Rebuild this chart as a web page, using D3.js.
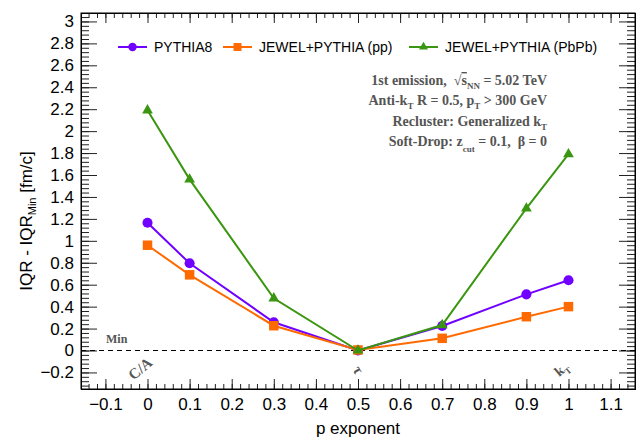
<!DOCTYPE html>
<html>
<head>
<meta charset="utf-8">
<script src="https://cdn.jsdelivr.net/npm/d3@7"></script>
<style>
  body { margin: 0; background: #fff; }
  svg { display: block; }
  text { font-family: "Liberation Sans", Arial, sans-serif; }
  text.note, .note text { font-family: "Liberation Serif", "Times New Roman", serif; font-weight: bold; fill: #555; white-space: pre; }
</style>
</head>
<body>
<div id="chart"></div>
<script>
// Data
const pValues = [0, 0.1, 0.3, 0.5, 0.7, 0.9, 1];
const pythia8 = [1.165, 0.795, 0.257, 0.0, 0.223, 0.512, 0.64];
const jewelPP = [0.96, 0.69, 0.226, 0.005, 0.111, 0.308, 0.40];
const jewelPbPb = [2.19, 1.56, 0.476, 0.0, 0.232, 1.296, 1.79];
const seriesNames = ['PYTHIA8', 'JEWEL+PYTHIA (pp)', 'JEWEL+PYTHIA (PbPb)'];
const xTickValues = [-0.1, 0, 0.1, 0.2, 0.3, 0.4, 0.5, 0.6, 0.7, 0.8, 0.9, 1, 1.1];
const yTickValues = [-0.2, 0, 0.2, 0.4, 0.6, 0.8, 1, 1.2, 1.4, 1.6, 1.8, 2, 2.2, 2.4, 2.6, 2.8, 3];
const schemeLabels = [{p: 0, text: 'C/A'}, {p: 0.5, text: 'τ'}, {p: 1, text: 'k', sub: 'T'}];

const W = 642, H = 440;
const margin = {top: 13, right: 7, bottom: 51, left: 81};
const width = W - margin.left - margin.right;
const height = H - margin.top - margin.bottom;

const svg = d3.select('#chart')
    .append('svg')
    .attr('width', W)
    .attr('height', H);

const g = svg.append('g')
    .attr('transform', `translate(${margin.left},${margin.top})`);

const x = d3.scaleLinear().domain([-0.158, 1.158]).range([0, width]);
const y = d3.scaleLinear().domain([-0.351, 3.077]).range([height, 0]);

const fmt = v => (v < 0 ? '\u2212' : '') + d3.format('~g')(Math.abs(v));

// minor ticks
const xMinor = d3.range(-0.14, 1.16, 0.02).map(v => +v.toFixed(2));
const yMinor = d3.range(-0.32, 3.07, 0.04).map(v => +v.toFixed(2));

function tickAxis(axisFn, scale, values, size) {
    return axisFn(scale).tickValues(values).tickSize(size).tickFormat('');
}

// bottom
g.append('g').attr('transform', `translate(0,${height})`)
    .call(tickAxis(d3.axisTop, x, xMinor, 5));
g.append('g').attr('transform', `translate(0,${height})`)
    .call(tickAxis(d3.axisTop, x, xTickValues, 10));
g.append('g').attr('transform', `translate(0,${height})`)
    .call(d3.axisBottom(x).tickValues(xTickValues).tickSize(0).tickPadding(9).tickFormat(fmt))
    .call(a => a.select('.domain').remove())
    .selectAll('text').style('font-size', '17px').attr('fill', '#000');
// top
g.append('g').call(tickAxis(d3.axisBottom, x, xMinor, 5));
g.append('g').call(tickAxis(d3.axisBottom, x, xTickValues, 10));
// left
g.append('g').call(tickAxis(d3.axisRight, y, yMinor, 8));
g.append('g').call(tickAxis(d3.axisRight, y, yTickValues, 16));
g.append('g')
    .call(d3.axisLeft(y).tickValues(yTickValues).tickSize(0).tickPadding(7).tickFormat(fmt))
    .call(a => a.select('.domain').remove())
    .selectAll('text').style('font-size', '17px').attr('fill', '#000');
// right
g.append('g').attr('transform', `translate(${width},0)`).call(tickAxis(d3.axisLeft, y, yMinor, 8));
g.append('g').attr('transform', `translate(${width},0)`).call(tickAxis(d3.axisLeft, y, yTickValues, 16));

g.selectAll('.domain').attr('stroke', '#000');
g.selectAll('.tick line').attr('stroke', '#222');

// frame
g.append('rect')
    .attr('width', width).attr('height', height)
    .attr('fill', 'none').attr('stroke', '#000').attr('stroke-width', 1);

// Min dashed line
g.append('line')
    .attr('x1', 0).attr('x2', width)
    .attr('y1', y(0)).attr('y2', y(0))
    .attr('stroke', '#000').attr('stroke-width', 1)
    .attr('stroke-dasharray', '5,4');
g.append('text').attr('class', 'note')
    .attr('x', 25).attr('y', y(0) - 8)
    .style('font-size', '12px')
    .text('Min');

// scheme labels
schemeLabels.forEach(s => {
    const t = g.append('text').attr('class', 'note')
        .style('font-weight', 'bold')
        .attr('transform', `translate(${x(s.p) - 4},${y(0) + 22}) rotate(${s.p === 0.5 ? 60 : -40})`)
        .attr('text-anchor', 'middle')
        .style('font-size', s.sub ? '14px' : '15px')
        .text(s.text);
    if (s.sub) t.append('tspan').attr('dy', 4).style('font-size', '9px').text(s.sub);
});

// series
const series = [
    {name: seriesNames[0], values: pythia8, color: '#7000ff', symbol: d3.symbolCircle, size: 80},
    {name: seriesNames[1], values: jewelPP, color: '#ff6a00', symbol: d3.symbolSquare, size: 90},
    {name: seriesNames[2], values: jewelPbPb, color: '#3a9610', symbol: d3.symbolTriangle, size: 50}
];

const line = d3.line().x(d => x(d[0])).y(d => y(d[1]));

series.forEach(s => {
    const pts = pValues.map((p, i) => [p, s.values[i]]);
    g.append('path')
        .datum(pts)
        .attr('d', line)
        .attr('fill', 'none')
        .attr('stroke', s.color)
        .attr('stroke-width', 2);
    g.selectAll(null)
        .data(pts)
        .enter()
        .append('path')
        .attr('transform', d => `translate(${x(d[0])},${y(d[1])})`)
        .attr('d', d3.symbol().type(s.symbol).size(s.size))
        .attr('fill', s.color);
});

// legend
const legendX = [37, 142, 328];
series.forEach((s, i) => {
    const lg = g.append('g').attr('transform', `translate(${legendX[i]},${34})`);
    lg.append('line').attr('x1', 0).attr('x2', 29).attr('stroke', s.color).attr('stroke-width', 2);
    lg.append('path').attr('transform', 'translate(14.5,0)')
        .attr('d', d3.symbol().type(s.symbol).size(s.size * 0.7)).attr('fill', s.color);
    lg.append('text').attr('x', 36).attr('y', 5).style('font-size', '14px').text(s.name);
});

// annotation
const noteX = 466;
const notes = g.append('g').attr('class', 'note').attr('text-anchor', 'end').style('font-size', '14px');
const l1 = notes.append('text').attr('x', noteX).attr('y', 72);
l1.append('tspan').text('1st emission,  \u221A');
l1.append('tspan').style('text-decoration', 'overline').text('s');
l1.append('tspan').attr('dy', 4).style('font-size', '9px').text('NN');
l1.append('tspan').attr('dy', -4).text(' = 5.02 TeV');
const l2 = notes.append('text').attr('x', noteX).attr('y', 92);
l2.append('tspan').text('Anti-k');
l2.append('tspan').attr('dy', 4).style('font-size', '9px').text('T');
l2.append('tspan').attr('dy', -4).text(' R = 0.5, p');
l2.append('tspan').attr('dy', 4).style('font-size', '9px').text('T');
l2.append('tspan').attr('dy', -4).text(' > 300 GeV');
const l3 = notes.append('text').attr('x', noteX).attr('y', 113);
l3.append('tspan').text('Recluster: Generalized k');
l3.append('tspan').attr('dy', 4).style('font-size', '9px').text('T');
const l4 = notes.append('text').attr('x', noteX).attr('y', 133);
l4.append('tspan').text('Soft-Drop: z');
l4.append('tspan').attr('dy', 6).style('font-size', '9px').text('cut');
l4.append('tspan').attr('dy', -6).text(' = 0.1,  \u03B2 = 0');

// axis titles
svg.append('text')
    .attr('x', margin.left + x(0.5)).attr('y', 434)
    .attr('text-anchor', 'middle').style('font-size', '17px')
    .text('p exponent');
const yt = svg.append('text')
    .attr('transform', `translate(32,${margin.top + height / 2 + 20}) rotate(-90)`)
    .attr('text-anchor', 'middle').style('font-size', '17px');
yt.append('tspan').text('IQR - IQR');
yt.append('tspan').attr('dy', 4).style('font-size', '11px').text('Min');
yt.append('tspan').attr('dy', -4).text(' [fm/c]');
</script>
</body>
</html>
